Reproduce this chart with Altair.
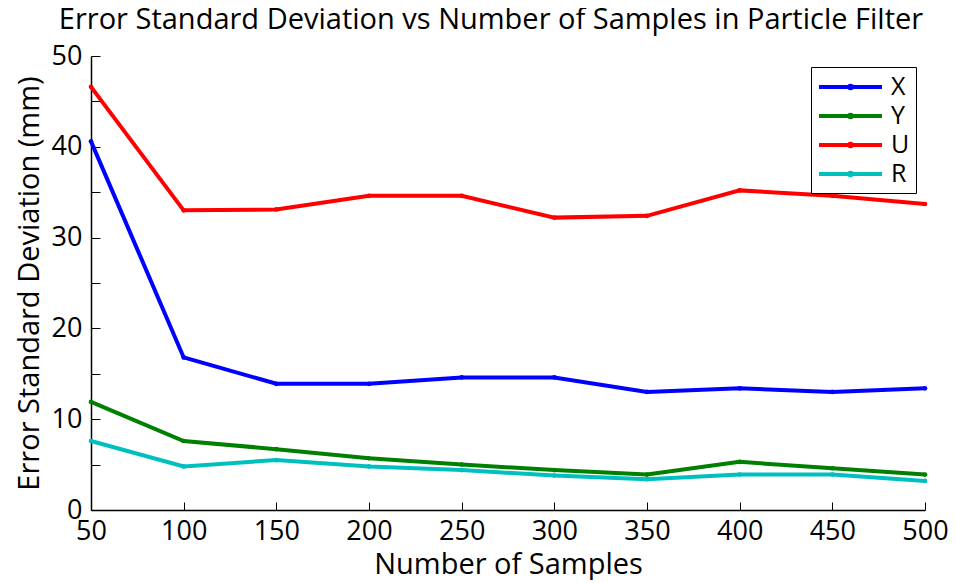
import altair as alt
import pandas as pd

samples = [50, 100, 150, 200, 250, 300, 350, 400, 450, 500]
x_err = [40.6, 16.8, 13.9, 13.9, 14.6, 14.6, 13.0, 13.4, 13.0, 13.4]
y_err = [11.9, 7.6, 6.7, 5.7, 5.0, 4.4, 3.9, 5.3, 4.6, 3.9]
u_err = [46.6, 33.0, 33.1, 34.6, 34.6, 32.2, 32.4, 35.2, 34.6, 33.7]
r_err = [7.6, 4.8, 5.5, 4.8, 4.4, 3.8, 3.4, 3.9, 3.9, 3.2]
series = ["X", "Y", "U", "R"]
colors = ["#0000ff", "#008000", "#ff0000", "#00bfbf"]
y_major = [0, 10, 20, 30, 40, 50]
y_minor = [0, 5, 10, 15, 20, 25, 30, 35, 40, 45, 50]

rows = []
for name, vals in zip(series, [x_err, y_err, u_err, r_err]):
    for s, v in zip(samples, vals):
        rows.append({"samples": s, "err": v, "series": name})
df = pd.DataFrame(rows)

FONT = "Open Sans"
xscale = alt.Scale(domain=[50, 500], nice=False, zero=False)
yscale = alt.Scale(domain=[0, 50], nice=False)

# legend symbol: a line with a small dot in its middle
legend_shape = ("M-1,0H4.25M1.515,0A0.11,0.11 0 1,1 1.735,0"
                "A0.11,0.11 0 1,1 1.515,0")

base = alt.Chart(df)

lines = base.mark_line(strokeWidth=4).encode(
    x=alt.X("samples:Q", scale=xscale,
            axis=alt.Axis(values=samples, ticks=False, grid=False, orient="bottom",
                          domainColor="black", domainWidth=1.5,
                          labelFont=FONT, labelFontSize=27, labelColor="black",
                          labelPadding=8, labelFlush=False, labelOverlap=False,
                          title="Number of Samples",
                          titleFont=FONT, titleFontSize=29, titleFontWeight="normal",
                          titleColor="black", titlePadding=6)),
    y=alt.Y("err:Q", scale=yscale,
            axis=alt.Axis(values=y_major, ticks=False, grid=False, orient="left",
                          domainColor="black", domainWidth=1.5,
                          labelFont=FONT, labelFontSize=27, labelColor="black",
                          labelPadding=9, labelFlush=False, labelOverlap=False,
                          title="Error Standard Deviation (mm)",
                          titleFont=FONT, titleFontSize=29, titleFontWeight="normal",
                          titleColor="black", titlePadding=7)),
    color=alt.Color("series:N", sort=series,
                    scale=alt.Scale(domain=series, range=colors),
                    legend=alt.Legend(title=None, orient="none", legendX=720, legendY=11,
                                      strokeColor="black", fillColor="white", padding=6,
                                      symbolType=legend_shape, symbolSize=576,
                                      symbolStrokeWidth=4, labelFont=FONT,
                                      labelFontSize=25, labelColor="black",
                                      labelOffset=46, rowPadding=2)),
)

points = base.mark_circle(size=22, opacity=1).encode(
    x=alt.X("samples:Q", scale=xscale, axis=None),
    y=alt.Y("err:Q", scale=yscale, axis=None),
    color=alt.Color("series:N", sort=series,
                    scale=alt.Scale(domain=series, range=colors), legend=None),
)

tick_layer = base.mark_line(opacity=0).encode(
    x=alt.X("samples:Q", scale=xscale,
            axis=alt.Axis(values=samples, orient="bottom", offset=-8, tickSize=8,
                          tickColor="black", tickWidth=1, labels=False, domain=False,
                          grid=False, title=None)),
    y=alt.Y("err:Q", scale=yscale,
            axis=alt.Axis(values=y_minor, orient="left", offset=-9, tickSize=9,
                          tickColor="black", tickWidth=1, labels=False, domain=False,
                          grid=False, title=None)),
    detail="series:N",
)

chart = alt.layer(lines, points, tick_layer).resolve_axis(
    x="independent", y="independent"
).properties(
    width=834, height=454,
    autosize=alt.AutoSizeParams(type="none"),
    padding={"left": 83, "top": 48, "right": 23, "bottom": 70},
    title=alt.TitleParams("Error Standard Deviation vs Number of Samples in Particle Filter",
                          font=FONT, fontSize=29, fontWeight="normal", color="black",
                          anchor="middle", frame="group", baseline="alphabetic",
                          offset=21, dx=-17, dy=37),
).configure(background="white").configure_view(stroke=None)

chart.save("out.html", embed_options={"renderer": "svg", "actions": False})
